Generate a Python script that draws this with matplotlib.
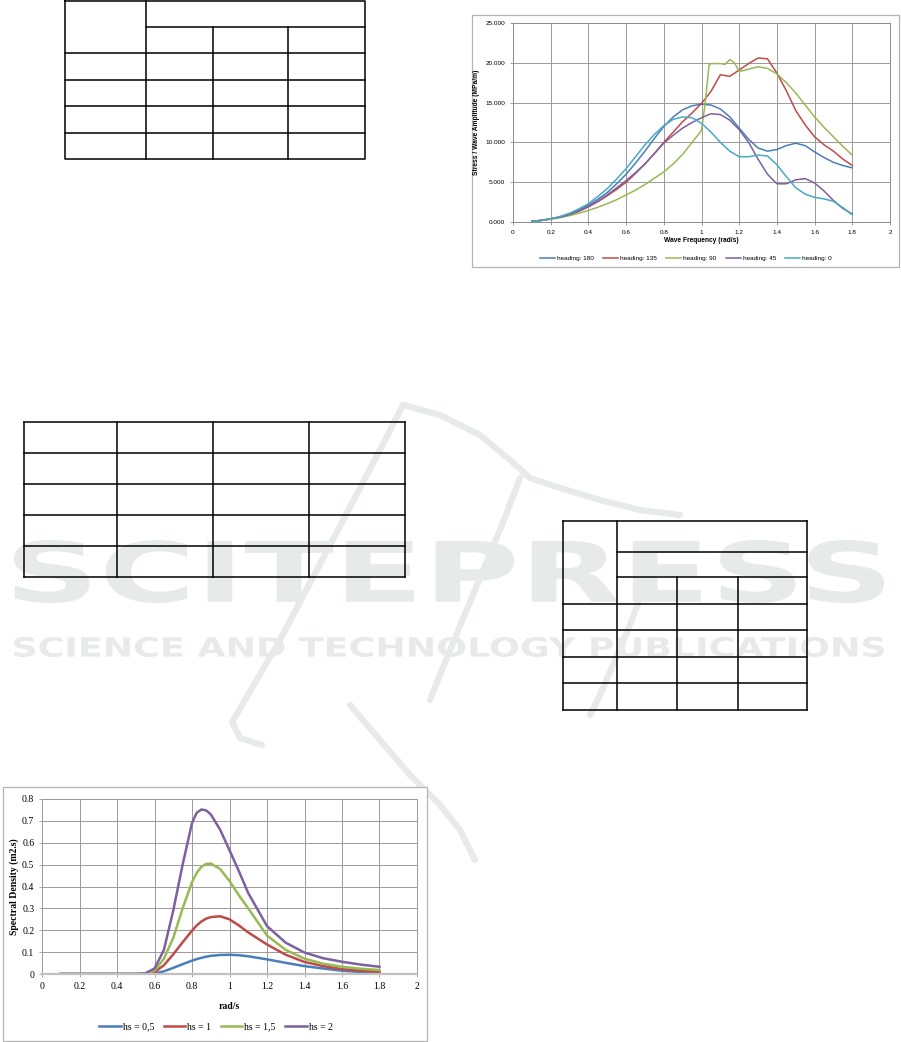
import matplotlib
matplotlib.use("Agg")
import matplotlib.pyplot as plt
from matplotlib.patches import Rectangle, PathPatch
from matplotlib.textpath import TextPath
from matplotlib.font_manager import FontProperties
from matplotlib.transforms import Affine2D
from matplotlib.ticker import FuncFormatter, MultipleLocator

W, H = 901, 1042

## ---- data: stress / wave amplitude RAO (top right chart) ----
freq = [0.10, 0.15, 0.20, 0.25, 0.30, 0.35, 0.40, 0.45, 0.50, 0.55, 0.60, 0.65,
        0.70, 0.75, 0.80, 0.85, 0.90, 0.95, 1.00, 1.05, 1.10, 1.15, 1.20, 1.25,
        1.30, 1.35, 1.40, 1.45, 1.50, 1.55, 1.60, 1.65, 1.70, 1.75, 1.80]
heading_180 = [100, 200, 400, 650, 1000, 1500, 2100, 2850, 3700, 4800, 6000, 7400,
               8900, 10500, 12000, 13200, 14100, 14600, 14800, 14700, 14200, 13200, 11800, 10400,
               9300, 8900, 9100, 9600, 9900, 9600, 8800, 8100, 7500, 7100, 6800]
heading_135 = [100, 200, 400, 600, 900, 1350, 1900, 2550, 3300, 4100, 5000, 6100,
               7300, 8600, 10000, 11300, 12600, 13700, 14900, 16400, 18500, 18300, 19100, 19900,
               20600, 20500, 18700, 16500, 14000, 12200, 10700, 9700, 8900, 7900, 7100]
heading_45 = [100, 200, 400, 600, 950, 1400, 1950, 2600, 3400, 4300, 5200, 6200,
              7300, 8600, 9900, 10900, 11800, 12500, 13100, 13600, 13500, 12800, 11600, 10000,
              7900, 6000, 4800, 4800, 5300, 5450, 4900, 3900, 2700, 1700, 1000]
heading_0 = [100, 200, 400, 700, 1100, 1650, 2300, 3200, 4200, 5400, 6700, 8200,
             9700, 11000, 12100, 12900, 13200, 13100, 12400, 11300, 10000, 8900, 8200, 8200,
             8400, 8300, 7200, 5700, 4300, 3500, 3100, 2900, 2600, 1800, 900]
freq_90 = [0.10, 0.15, 0.20, 0.25, 0.30, 0.35, 0.40, 0.45, 0.50, 0.55, 0.60, 0.65,
           0.70, 0.75, 0.80, 0.85, 0.90, 0.95, 1.00, 1.02, 1.04, 1.05, 1.10, 1.125,
           1.15, 1.175, 1.20, 1.25, 1.30, 1.35, 1.40, 1.45, 1.50, 1.55, 1.60, 1.65,
           1.70, 1.75, 1.80]
heading_90 = [100, 180, 350, 550, 800, 1100, 1450, 1850, 2300, 2800, 3400, 4000,
              4700, 5500, 6300, 7300, 8500, 10000, 11500, 15000, 19700, 19900, 19900, 19800,
              20400, 20000, 18900, 19200, 19500, 19300, 18600, 17500, 16200, 14700, 13200, 11900,
              10700, 9500, 8400]

## ---- data: wave spectra (bottom left chart) ----
omega = [0.10, 0.20, 0.30, 0.40, 0.50, 0.55, 0.60, 0.65, 0.70, 0.75, 0.80, 0.825,
         0.85, 0.875, 0.90, 0.95, 1.00, 1.05, 1.10, 1.20, 1.30, 1.40, 1.50, 1.60,
         1.70, 1.80]
hs_05 = [0, 0, 0, 0, 0, 0, 0.003, 0.012, 0.028, 0.045, 0.061, 0.068,
         0.074, 0.079, 0.083, 0.087, 0.088, 0.086, 0.081, 0.067, 0.051, 0.036, 0.025, 0.015,
         0.009, 0.005]
hs_1 = [0, 0, 0, 0, 0, 0, 0.008, 0.040, 0.090, 0.145, 0.198, 0.222,
        0.240, 0.253, 0.260, 0.264, 0.250, 0.222, 0.190, 0.135, 0.088, 0.055, 0.036, 0.022,
        0.015, 0.010]
hs_15 = [0, 0, 0, 0, 0, 0, 0.015, 0.070, 0.165, 0.300, 0.420, 0.462,
         0.490, 0.503, 0.505, 0.480, 0.425, 0.360, 0.300, 0.176, 0.110, 0.070, 0.047, 0.033,
         0.024, 0.018]
hs_2 = [0, 0, 0, 0, 0, 0.003, 0.025, 0.110, 0.290, 0.500, 0.690, 0.737,
        0.752, 0.748, 0.730, 0.660, 0.566, 0.470, 0.370, 0.219, 0.143, 0.098, 0.072, 0.056,
        0.043, 0.033]

## Excel 2007 palette
c_blue, c_red, c_green, c_purple, c_cyan = '#4A7EBB', '#BE4B48', '#98B954', '#7D60A0', '#46AAC5'


def px_axes(fig, x0, y0, x1, y1, **kw):
    '''add axes placed in pixel coordinates (origin top-left)'''
    return fig.add_axes([x0 / W, 1 - y1 / H, (x1 - x0) / W, (y1 - y0) / H], **kw)


def fit_text(ax, s, x0, x1, y0, y1, color):
    '''stretch a text path into the given pixel box'''
    tp = TextPath((0, 0), s, size=100, prop=FontProperties(family='DejaVu Sans', weight='bold'))
    bb = tp.get_extents()
    tr = Affine2D().translate(-bb.x0, -bb.y0).scale((x1 - x0) / bb.width, -(y1 - y0) / bb.height).translate(x0, y1)
    ax.add_patch(PathPatch(tr.transform_path(tp), fc=color, ec='none', zorder=1))


fig = plt.figure(figsize=(W / 100, H / 100), dpi=100)

## background layer in pixel coordinates: tables + watermark
bg = fig.add_axes([0, 0, 1, 1])
bg.set_xlim(0, W)
bg.set_ylim(H, 0)
bg.axis('off')

wm = '#e8e9e9'
fit_text(bg, 'SCITEPRESS', 14, 884, 540, 603, wm)
fit_text(bg, 'SCIENCE AND TECHNOLOGY PUBLICATIONS', 14, 884, 637, 657, wm)
## rough logo strokes
logo = [
    ([403, 380, 330, 280, 245, 232, 240, 262], [405, 450, 545, 640, 700, 722, 738, 745]),
    ([403, 440, 480, 510, 530, 560, 600, 640, 680], [405, 415, 435, 460, 478, 488, 500, 510, 515]),
    ([520, 500, 475, 450, 430], [478, 530, 590, 650, 700]),
    ([645, 630, 615, 600, 590], [585, 625, 660, 695, 715]),
    ([350, 380, 410, 440, 460, 475], [705, 740, 775, 805, 830, 860]),
]
for lx, ly in logo:
    bg.plot(lx, ly, color=wm, lw=4.5, solid_capstyle='round', zorder=1)

tk = dict(color='black', lw=1.1, zorder=2)
## table 1
t1x = [65, 146, 213, 288, 365]
t1y = [1, 27, 53, 80, 106, 133, 159]
bg.plot([65, 365, 365, 65, 65], [1, 1, 159, 159, 1], **tk)
bg.plot([146, 365], [27, 27], **tk)
for y in t1y[2:-1]:
    bg.plot([65, 365], [y, y], **tk)
bg.plot([146, 146], [1, 159], **tk)
for x in t1x[2:4]:
    bg.plot([x, x], [27, 159], **tk)
## table 2
t2x = [24, 117, 213, 309, 405]
t2y = [422, 453, 484, 515, 546, 577]
for y in t2y:
    bg.plot([24, 405], [y, y], **tk)
for x in t2x:
    bg.plot([x, x], [422, 577], **tk)
## table 3
t3x = [563, 617, 677, 738, 807]
t3y = [521, 552, 577, 604, 630, 657, 683, 710]
bg.plot([563, 807], [521, 521], **tk)
bg.plot([617, 807], [552, 552], **tk)
bg.plot([617, 807], [577, 577], **tk)
for y in t3y[3:]:
    bg.plot([563, 807], [y, y], **tk)
bg.plot([563, 563], [521, 710], **tk)
bg.plot([617, 617], [521, 710], **tk)
bg.plot([807, 807], [521, 710], **tk)
for x in t3x[2:4]:
    bg.plot([x, x], [577, 710], **tk)

## chart frames
bg.add_patch(Rectangle((472, 15), 427, 252, fc='white', ec='#b4b4b4', lw=0.9, zorder=3))
bg.add_patch(Rectangle((3, 787), 424, 254, fc='white', ec='#b4b4b4', lw=0.9, zorder=3))

## ---------- chart 1: stress RAO ----------
sans = 'Liberation Sans'
ax1 = px_axes(fig, 513, 23, 890, 222)
ax1.plot(freq, heading_180, color=c_blue, lw=1.1, label='heading: 180')
ax1.plot(freq, heading_135, color=c_red, lw=1.1, label='heading: 135')
ax1.plot(freq_90, heading_90, color=c_green, lw=1.1, label='heading: 90')
ax1.plot(freq, heading_45, color=c_purple, lw=1.1, label='heading: 45')
ax1.plot(freq, heading_0, color=c_cyan, lw=1.1, label='heading: 0')
ax1.set_xlim(0, 2)
ax1.set_ylim(0, 25000)
ax1.xaxis.set_major_locator(MultipleLocator(0.2))
ax1.yaxis.set_major_locator(MultipleLocator(5000))
ax1.xaxis.set_major_formatter(FuncFormatter(lambda v, p: '%g' % round(v, 1)))
ax1.yaxis.set_major_formatter(FuncFormatter(lambda v, p: '%.3f' % (v / 1000)))
ax1.grid(True, color='#9a9a9a', lw=0.7)
ax1.set_axisbelow(True)
for s in ax1.spines.values():
    s.set_color('#8c8c8c')
    s.set_linewidth(0.7)
ax1.tick_params(length=2.5, width=0.6, color='#8c8c8c', labelsize=4.6, pad=3)
for lab in ax1.get_xticklabels() + ax1.get_yticklabels():
    lab.set_fontfamily(sans)
ax1.set_xlabel('Wave Frequency (rad/s)', fontsize=4.8, fontweight='bold', family=sans, labelpad=2)
ax1.set_ylabel('Stress / Wave Amplitude (MPa/m)', fontsize=4.8, fontweight='bold', family=sans, labelpad=4)
fig.legend(*ax1.get_legend_handles_labels(), loc='center', bbox_to_anchor=(686 / W, 1 - 258 / H),
           ncol=5, frameon=False, prop={'family': sans, 'size': 4.6}, handlelength=2.4,
           columnspacing=1.4, handletextpad=0.3)

## ---------- chart 2: spectral density ----------
serif = 'Liberation Serif'
ax2 = px_axes(fig, 42, 799, 417, 974)
ax2.plot(omega, hs_05, color=c_blue, lw=1.8, label='hs = 0,5')
ax2.plot(omega, hs_1, color=c_red, lw=1.8, label='hs = 1')
ax2.plot(omega, hs_15, color=c_green, lw=1.8, label='hs = 1,5')
ax2.plot(omega, hs_2, color=c_purple, lw=1.8, label='hs = 2')
ax2.set_xlim(0, 2)
ax2.set_ylim(0, 0.8)
ax2.xaxis.set_major_locator(MultipleLocator(0.2))
ax2.yaxis.set_major_locator(MultipleLocator(0.1))
ax2.xaxis.set_major_formatter(FuncFormatter(lambda v, p: '%g' % round(v, 1)))
ax2.yaxis.set_major_formatter(FuncFormatter(lambda v, p: '%g' % round(v, 1)))
ax2.grid(True, color='#9a9a9a', lw=0.7)
ax2.set_axisbelow(True)
for s in ax2.spines.values():
    s.set_color('#9a9a9a')
    s.set_linewidth(0.7)
ax2.spines['bottom'].set_color('#c0c0c0')
ax2.spines['bottom'].set_linewidth(1.6)
ax2.tick_params(length=2.5, width=0.6, color='#9a9a9a', labelsize=7, pad=3)
for lab in ax2.get_xticklabels() + ax2.get_yticklabels():
    lab.set_fontfamily(serif)
ax2.set_xlabel('rad/s', fontsize=7, fontweight='bold', family=serif, labelpad=8)
ax2.set_ylabel('Spectral Density (m2.s)', fontsize=7, fontweight='bold', family=serif, labelpad=2)
fig.legend(*ax2.get_legend_handles_labels(), loc='center', bbox_to_anchor=(216 / W, 1 - 1027 / H),
           ncol=4, frameon=False, prop={'family': serif, 'size': 7}, handlelength=2.2,
           columnspacing=1.0, handletextpad=0.2)

fig.savefig('out.png', dpi=100)
